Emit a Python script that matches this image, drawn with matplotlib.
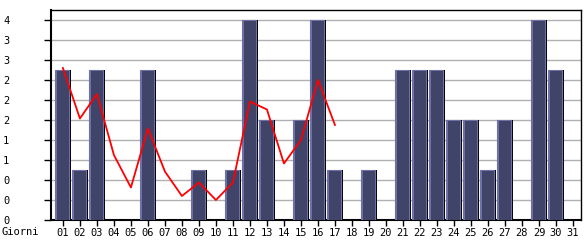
import matplotlib
matplotlib.use("Agg")
import matplotlib.pyplot as plt
import numpy as np
from matplotlib.ticker import FuncFormatter

days = ["%02d" % d for d in range(1, 32)]
visits = [3, 1, 3, 0, 0, 3, 0, 0, 1, 0, 1, 4, 2, 0, 2, 4, 1, 0, 1, 0,
          3, 3, 3, 2, 2, 1, 2, 0, 4, 3, 0]
trend_days = days[:17]
trend = [3.04, 2.03, 2.52, 1.30, 0.65, 1.83, 0.97, 0.48, 0.75, 0.40,
         0.75, 2.37, 2.21, 1.13, 1.60, 2.80, 1.90]
yticks = [0, 0.4, 0.8, 1.2, 1.6, 2.0, 2.4, 2.8, 3.2, 3.6, 4.0]

W, H = 585, 240
fig = plt.figure(figsize=(W / 100, H / 100), dpi=100)
ax = fig.add_axes([51 / W, 1 - 220 / H, (581 - 51) / W, 210 / H])

x = np.arange(len(days))
v = np.array(visits, dtype=float)
ax.set_axisbelow(True)
ax.yaxis.grid(True, color="#b0b0b0", linewidth=1)
# shadow
ax.bar(x + 0.07, v, width=0.78, color="black", linewidth=0, zorder=2)
# light edge
ax.bar(x - 0.06, v, width=0.82, color="#7070a8", edgecolor="#7070a8",
       linewidth=0.8, zorder=3)
# body
ax.bar(x + 0.0, v - 0.025, width=0.68, color="#404468", linewidth=0, zorder=4)

tx = np.arange(len(trend_days))
ax.plot(tx, trend, color="#ff0000", linewidth=1.3, zorder=5)

FS = 7.5
ax.set_xlim(-0.7, 30.47)
ax.set_ylim(0, 4.2)
ax.set_xticks(x)
ax.set_xticklabels(days)
ax.set_yticks(yticks)
ax.yaxis.set_major_formatter(FuncFormatter(lambda val, pos: "%d" % int(val + 1e-9)))
ax.tick_params(axis="y", length=5, width=1, pad=29.5, labelsize=FS)
ax.tick_params(axis="x", length=4, width=1, pad=2, labelsize=FS)
for lab in ax.get_yticklabels():
    lab.set_horizontalalignment("left")
for lab in ax.get_xticklabels() + ax.get_yticklabels():
    lab.set_family("DejaVu Sans Mono")
for s in ax.spines.values():
    s.set_color("black")
    s.set_linewidth(1)
ax.spines["left"].set_linewidth(1.5)
ax.spines["bottom"].set_linewidth(1.5)

fig.text(2 / W, 1 - 232 / H, "Giorni", family="DejaVu Sans Mono",
         fontsize=FS, ha="left", va="center")

fig.savefig("out.png", dpi=100, facecolor="white")
